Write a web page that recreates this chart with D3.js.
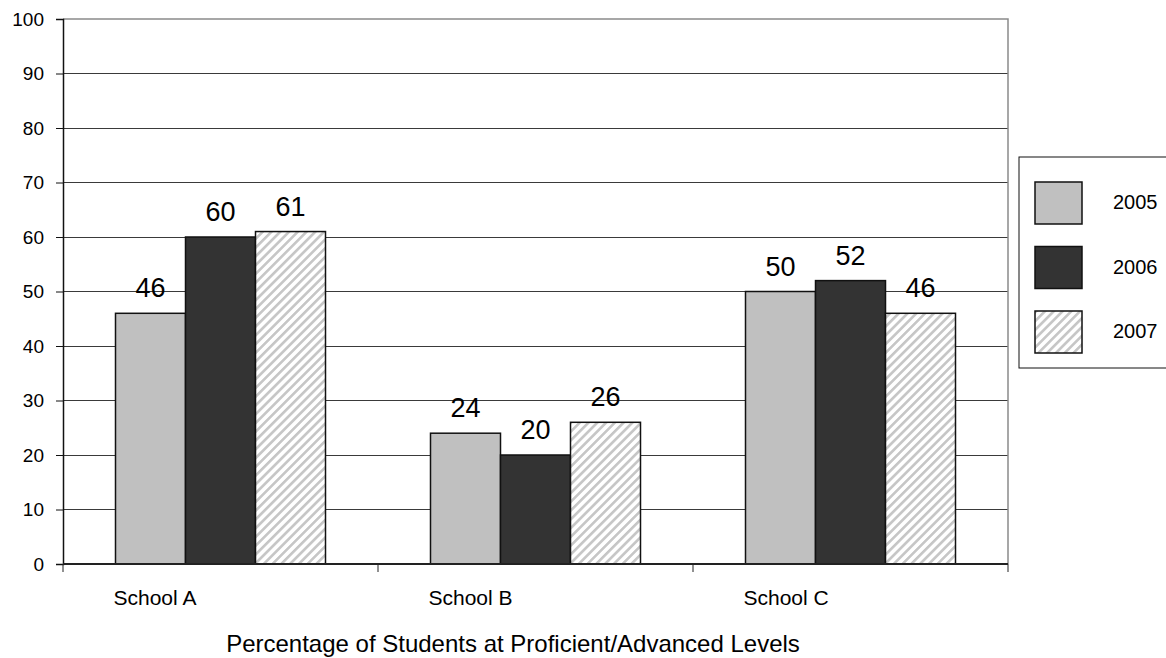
<!DOCTYPE html>
<html>
<head>
<meta charset="utf-8">
<script src="https://cdn.jsdelivr.net/npm/d3@7"></script>
<style>
  html, body { margin: 0; padding: 0; background: #fff; }
  svg { display: block; font-family: "Liberation Sans", Arial, sans-serif; }
</style>
</head>
<body>
<svg id="chart" width="1166" height="658"></svg>
<script>
// Percentage of students at proficient/advanced levels, by school and year
const schools = ["School A", "School B", "School C"];
const years = ["2005", "2006", "2007"];
const values2005 = [46, 24, 50];
const values2006 = [60, 20, 52];
const values2007 = [61, 26, 46];
const yTicks = [0, 10, 20, 30, 40, 50, 60, 70, 80, 90, 100];
const chartTitle = "Percentage of Students at Proficient/Advanced Levels";

const seriesValues = { "2005": values2005, "2006": values2006, "2007": values2007 };

const svg = d3.select("#chart");
const plot = { left: 63, right: 1008, top: 19, bottom: 564 };

// hatched fill for the third series
const defs = svg.append("defs");
const hatch = defs.append("pattern")
  .attr("id", "hatch")
  .attr("patternUnits", "userSpaceOnUse")
  .attr("width", 6.2).attr("height", 6.2)
  .attr("patternTransform", "rotate(45)");
hatch.append("rect").attr("width", 6.2).attr("height", 6.2).attr("fill", "#ffffff");
hatch.append("rect").attr("x", 0).attr("width", 2.6).attr("height", 6.2).attr("fill", "#c6c6c6");

const fills = { "2005": "#c0c0c0", "2006": "#333333", "2007": "url(#hatch)" };

const x = d3.scaleBand().domain(schools).range([plot.left, plot.right]).padding(0);
const bw = x.bandwidth() / 4.5;           // gap width of 1.5 bars between groups
const inner = d3.scaleBand().domain(years)
  .range([(x.bandwidth() - 3 * bw) / 2, (x.bandwidth() + 3 * bw) / 2]).padding(0);
const y = d3.scaleLinear().domain([0, 100]).range([plot.bottom, plot.top]);

// horizontal gridlines
svg.append("g")
  .selectAll("line")
  .data(yTicks.filter(t => t > 0 && t < 100))
  .join("line")
  .attr("x1", plot.left).attr("x2", plot.right)
  .attr("y1", d => y(d)).attr("y2", d => y(d))
  .attr("stroke", "#3a3a3a").attr("stroke-width", 1)
  .attr("shape-rendering", "crispEdges");

// plot area frame (top and right edges)
svg.append("path")
  .attr("d", `M${plot.left},${y(100)}H${plot.right}V${plot.bottom}`)
  .attr("fill", "none").attr("stroke", "#8a8a8a").attr("stroke-width", 1.5);

// bars
const groups = svg.append("g")
  .selectAll("g")
  .data(schools)
  .join("g")
  .attr("transform", d => `translate(${x(d)},0)`);

groups.selectAll("rect")
  .data((s, i) => years.map(yr => ({ year: yr, value: seriesValues[yr][i] })))
  .join("rect")
  .attr("x", d => inner(d.year))
  .attr("width", inner.bandwidth())
  .attr("y", d => y(d.value))
  .attr("height", d => y(0) - y(d.value))
  .attr("fill", d => fills[d.year])
  .attr("stroke", "#111").attr("stroke-width", 1.5);

// value labels
groups.selectAll("text")
  .data((s, i) => years.map(yr => ({ year: yr, value: seriesValues[yr][i] })))
  .join("text")
  .attr("x", d => inner(d.year) + inner.bandwidth() / 2)
  .attr("y", d => y(d.value) - 16)
  .attr("text-anchor", "middle")
  .attr("font-size", 27)
  .attr("fill", "#000")
  .text(d => d.value);

// y axis
const yAxis = svg.append("g")
  .attr("transform", `translate(${plot.left},0)`)
  .call(d3.axisLeft(y).tickValues(yTicks).tickSize(7).tickPadding(12));
yAxis.select(".domain").attr("stroke", "#111").attr("stroke-width", 1.5);
yAxis.selectAll(".tick line").attr("stroke", "#111");
yAxis.selectAll(".tick text")
  .attr("font-size", 19).attr("fill", "#000")
  .attr("font-family", "'Liberation Sans', Arial, sans-serif");

// x axis baseline and category ticks
const xAxis = svg.append("g")
  .attr("transform", `translate(0,${plot.bottom})`);
xAxis.append("line")
  .attr("x1", plot.left).attr("x2", plot.right)
  .attr("stroke", "#222").attr("stroke-width", 2);
xAxis.selectAll("line.tick")
  .data(schools.map(s => x(s)).concat([x(schools[schools.length - 1]) + x.bandwidth()]))
  .join("line")
  .attr("class", "tick")
  .attr("x1", d => d).attr("x2", d => d)
  .attr("y1", 0).attr("y2", 8)
  .attr("stroke", "#222").attr("stroke-width", 1);
xAxis.selectAll("text")
  .data(schools)
  .join("text")
  .attr("x", d => x(d) + inner(years[0]) - 2)
  .attr("y", 41)
  .attr("font-size", 21)
  .attr("fill", "#000")
  .text(d => d);

// axis title
svg.append("text")
  .attr("x", 513).attr("y", 652)
  .attr("text-anchor", "middle")
  .attr("font-size", 24)
  .attr("fill", "#000")
  .text(chartTitle);

// legend
const legend = svg.append("g");
legend.append("rect")
  .attr("x", 1019).attr("y", 157)
  .attr("width", 160).attr("height", 211)
  .attr("fill", "#fff").attr("stroke", "#111").attr("stroke-width", 1);
const legendRow = d3.scalePoint().domain(years).range([182, 311]);
const items = legend.selectAll("g.item")
  .data(years)
  .join("g")
  .attr("class", "item")
  .attr("transform", d => `translate(0,${legendRow(d)})`);
items.append("rect")
  .attr("x", 1035).attr("y", 0)
  .attr("width", 47).attr("height", 42)
  .attr("fill", d => fills[d])
  .attr("stroke", "#111").attr("stroke-width", 1.5);
items.append("text")
  .attr("x", 1113).attr("y", 27)
  .attr("font-size", 20)
  .attr("fill", "#000")
  .text(d => d);
</script>
</body>
</html>
